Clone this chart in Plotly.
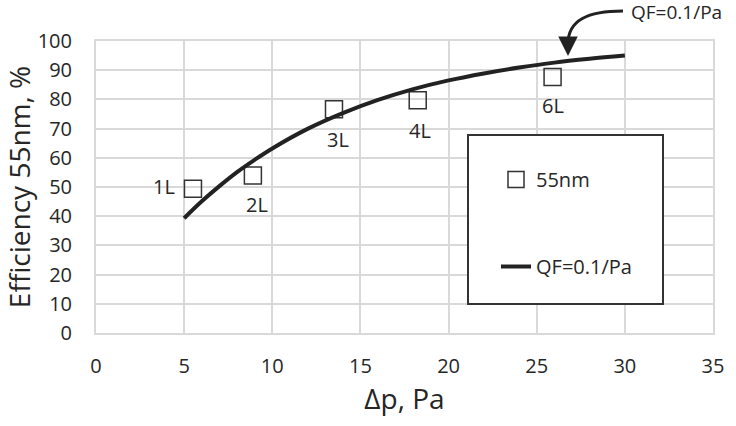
import plotly.graph_objects as go

# measured points (Δp in Pa, efficiency in %)
point_labels = ["1L", "2L", "3L", "4L", "6L"]
point_dp = [5.5, 8.9, 13.5, 18.25, 25.9]
point_eff = [49.4, 53.9, 76.6, 79.7, 87.7]

# QF = 0.1/Pa curve
curve_dp = [5, 6, 7, 8, 9, 10, 12, 14, 16, 18, 20, 22, 24, 26, 28, 30]
curve_eff = [39.3, 45.1, 50.3, 55.1, 59.3, 63.2, 69.9, 75.3, 79.8, 83.5, 86.5, 88.9, 90.9, 92.6, 93.9, 95.0]

x_ticks = [0, 5, 10, 15, 20, 25, 30, 35]
y_ticks = [0, 10, 20, 30, 40, 50, 60, 70, 80, 90, 100]

FONT = "Open Sans"
TXT = "#262626"
GRID = "#d9d9d9"

W, H = 736, 426
L, R, T, B = 96, 23, 41, 93
pw, ph = W - L - R, H - T - B


def px(xp):
    return (xp - L) / pw


def py(yp):
    return (H - B - yp) / ph


# label offsets (pixels) relative to each marker
label_shift = [(-29, 2), (4, -29), (4, -30), (2, -30), (0, -29)]

fig = go.Figure()
fig.add_trace(go.Scatter(
    x=point_dp, y=point_eff, mode="markers", name="55nm",
    marker=dict(symbol="square-open", size=17, color="#333333", line=dict(width=1.5, color="#333333")),
    legendgroup="a",
))
fig.add_trace(go.Scatter(
    x=curve_dp, y=curve_eff, mode="lines", name="QF=0.1/Pa",
    line=dict(color="#222222", width=4, shape="spline"),
    legendgroup="b",
))

for lab, xv, yv, (dx, dy) in zip(point_labels, point_dp, point_eff, label_shift):
    fig.add_annotation(x=xv, y=yv, text=lab, showarrow=False, xshift=dx, yshift=dy,
                       font=dict(family=FONT, size=20, color=TXT))

# legend frame
fig.add_shape(type="rect", xref="paper", yref="paper",
              x0=px(468), x1=px(663), y0=py(304), y1=py(135),
              line=dict(color="#333333", width=2), fillcolor="white", layer="above")

# curved arrow
x0, y0 = px(623), py(11)
c1x, c1y = px(588), py(11)
c2x, c2y = px(568), py(20)
x1, y1 = px(568), py(44)
fig.add_shape(type="path", xref="paper", yref="paper",
              path=f"M {x0},{y0} C {c1x},{c1y} {c2x},{c2y} {x1},{y1}",
              line=dict(color="#222222", width=3))
fig.add_annotation(xref="paper", yref="paper", x=px(568), y=py(56), ax=0, ay=-14,
                   text="", showarrow=True, arrowhead=2, arrowsize=1.3, arrowwidth=3,
                   arrowcolor="#222222")
fig.add_annotation(xref="paper", yref="paper", x=px(630), y=py(12), xanchor="left", yanchor="middle",
                   text="QF=0.1/Pa", showarrow=False, borderpad=0,
                   font=dict(family=FONT, size=19, color=TXT))

fig.update_layout(
    width=W, height=H,
    margin=dict(l=L, r=R, t=T, b=B, autoexpand=False),
    paper_bgcolor="white", plot_bgcolor="white",
    font=dict(family=FONT, size=20, color=TXT),
    showlegend=True,
    legend=dict(x=px(496), y=py(160), xanchor="left", yanchor="top",
                bgcolor="rgba(0,0,0,0)", borderwidth=0,
                tracegroupgap=58, traceorder="grouped",
                font=dict(family=FONT, size=20, color=TXT)),
    xaxis=dict(range=[0, 35], tickvals=x_ticks, ticktext=[str(v) for v in x_ticks],
               showgrid=True, gridcolor=GRID, gridwidth=2,
               showline=True, linecolor=GRID, linewidth=2, mirror=True,
               zeroline=False, ticks="", ticklabelstandoff=14, automargin=False,
               tickfont=dict(family=FONT, size=20, color=TXT),
               title=dict(text="Δp, Pa", font=dict(family=FONT, size=28, color=TXT), standoff=10)),
    yaxis=dict(range=[0, 100], tickvals=y_ticks, ticktext=[str(v) for v in y_ticks],
               showgrid=True, gridcolor=GRID, gridwidth=2,
               showline=True, linecolor=GRID, linewidth=2, mirror=True,
               zeroline=False, ticks="", ticklabelstandoff=18, automargin=False,
               tickfont=dict(family=FONT, size=20, color=TXT),
               title=dict(text="Efficiency 55nm, %", font=dict(family=FONT, size=28, color=TXT), standoff=6)),
)

fig.write_html("out.html", config={"displayModeBar": False},
               post_script="document.body.style.margin='0';document.body.style.overflow='hidden';")
